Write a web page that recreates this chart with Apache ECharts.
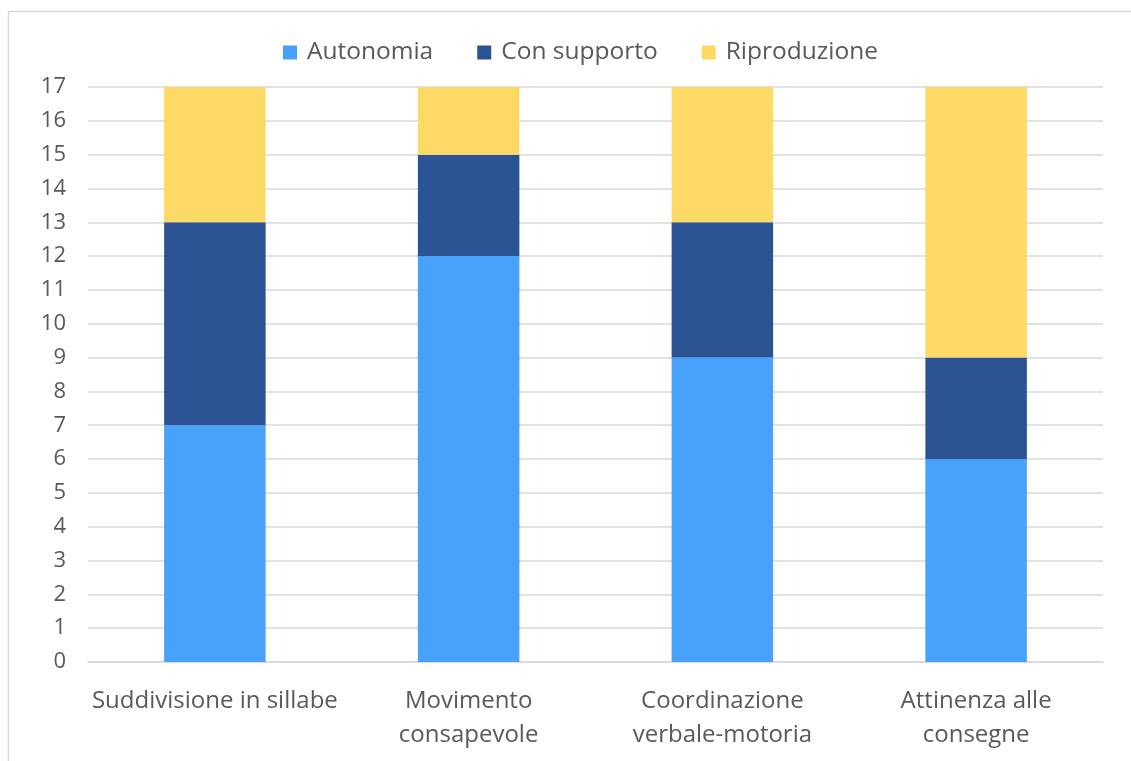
<!DOCTYPE html>
<html><head><meta charset="utf-8">
<script src="https://cdn.jsdelivr.net/npm/echarts@6/dist/echarts.min.js"></script>
<style>html,body{margin:0;padding:0;background:#fff}#c{width:1131px;height:761px}</style>
</head><body><div id="c"></div>
<script>
const categories = ['Suddivisione in sillabe', 'Movimento\nconsapevole', 'Coordinazione\nverbale-motoria', 'Attinenza alle\nconsegne'];
const autonomia = [7, 12, 9, 6];
const conSupporto = [6, 3, 4, 3];
const riproduzione = [4, 2, 4, 8];
const seriesNames = ['Autonomia', 'Con supporto', 'Riproduzione'];
const colors = ['#47A0FA', '#2C5494', '#FED966'];
const font = '"Open Sans", "Noto Sans", sans-serif';
const chart = echarts.init(document.getElementById('c'));
chart.setOption({
  animation: false,
  graphic: [{type: 'polyline', shape: {points: [[8.5, 761], [8.5, 11.5], [1131, 11.5]]}, style: {stroke: '#d9d9d9', lineWidth: 1.5, fill: null}}],
  legend: {top: 35, left: 278, itemWidth: 14, itemHeight: 14, itemGap: 44, icon: 'rect',
    textStyle: {fontFamily: font, fontSize: 24.5, color: '#595959', padding: [0, 0, 0, 5]}, data: seriesNames},
  grid: {left: 88, right: 28, top: 87, bottom: 99},
  xAxis: {type: 'category', data: categories,
    axisLine: {lineStyle: {color: '#d9d9d9', width: 1.5}}, axisTick: {show: false},
    axisLabel: {fontFamily: font, fontSize: 24, color: '#595959', margin: 22, lineHeight: 34, interval: 0}},
  yAxis: {type: 'value', min: 0, max: 17, interval: 1,
    axisLine: {show: false}, axisTick: {show: false},
    splitLine: {lineStyle: {color: '#d9d9d9', width: 1.5}},
    axisLabel: {fontFamily: font, fontSize: 22, color: '#595959', margin: 22}},
  series: [
    {name: seriesNames[0], type: 'bar', stack: 's', data: autonomia, barWidth: '40%', itemStyle: {color: colors[0]}},
    {name: seriesNames[1], type: 'bar', stack: 's', data: conSupporto, itemStyle: {color: colors[1]}},
    {name: seriesNames[2], type: 'bar', stack: 's', data: riproduzione, itemStyle: {color: colors[2]}}
  ]
});
</script></body></html>
